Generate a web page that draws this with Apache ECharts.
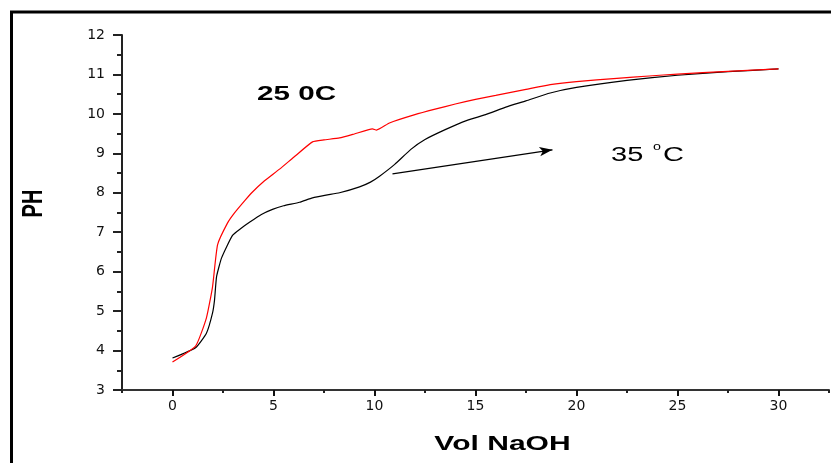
<!DOCTYPE html>
<html>
<head>
<meta charset="utf-8">
<script src="https://cdn.jsdelivr.net/npm/echarts@6/dist/echarts.min.js"></script>
<style>
html,body{margin:0;padding:0;background:#fff;}
#chart{width:831px;height:463px;}
</style>
</head>
<body>
<div id="chart"></div>
<script>
// ---- data ----
var xTickValues = [0, 5, 10, 15, 20, 25, 30];
var vol25 = [0, 1.15, 1.68, 1.98, 2.23, 2.72, 3.07, 3.61, 3.96, 4.5, 5.3, 6.0, 6.93, 7.5, 8.27, 9.0, 9.9, 10.1, 10.74, 12, 13, 14, 15, 16, 17.5, 18.7, 20, 22, 23.6, 25, 27.5, 30];
var ph25  = [3.71, 4.12, 4.83, 5.61, 6.68, 7.23, 7.49, 7.82, 8.02, 8.28, 8.6, 8.9, 9.29, 9.34, 9.39, 9.49, 9.62, 9.59, 9.77, 9.98, 10.12, 10.25, 10.37, 10.47, 10.62, 10.74, 10.82, 10.9, 10.96, 11.01, 11.08, 11.14];
var vol35 = [0, 1.14, 1.68, 1.98, 2.08, 2.18, 2.43, 2.97, 3.4, 3.81, 4.4, 4.95, 5.5, 6.29, 6.93, 7.6, 8.27, 9.26, 9.8, 10.25, 11.0, 11.8, 12.5, 13.5, 14.55, 15.5, 16.5, 17.5, 18.7, 20, 22.5, 25, 27.5, 30];
var ph35  = [3.81, 4.07, 4.44, 4.95, 5.28, 5.87, 6.35, 6.92, 7.1, 7.25, 7.45, 7.58, 7.67, 7.76, 7.87, 7.94, 8.0, 8.15, 8.27, 8.42, 8.72, 9.1, 9.35, 9.6, 9.83, 9.98, 10.17, 10.33, 10.53, 10.67, 10.85, 10.98, 11.07, 11.14];
var arrowStart = [10.89, 8.48];
var arrowEnd = [18.81, 9.09];

function pairs(xs, ys) { return xs.map(function (x, i) { return [x, ys[i]]; }); }

var FONT = 'Liberation Sans, Arial, sans-serif';
var chart = echarts.init(document.getElementById('chart'), null, {renderer: 'canvas'});

var option = {
  animation: false,
  backgroundColor: '#fff',
  grid: {left: 122, right: 2, top: 35, bottom: 73},
  xAxis: [{
    type: 'value', min: -2.5, max: 32.5, interval: 2.5,
    axisLine: {show: true, onZero: false, lineStyle: {color: '#333', width: 2}},
    axisTick: {show: true, length: 3, lineStyle: {color: '#222', width: 2}},
    axisLabel: {show: false},
    splitLine: {show: false}
  }, {
    type: 'value', min: -2.5, max: 32.5, position: 'bottom',
    axisLine: {show: false},
    axisTick: {show: true, length: 6, customValues: xTickValues, lineStyle: {color: '#111', width: 2}},
    axisLabel: {show: true, customValues: xTickValues, margin: 9, color: '#111', fontSize: 14, fontFamily: 'DejaVu Sans'},
    splitLine: {show: false}
  }],
  yAxis: {
    type: 'value', min: 3, max: 12, interval: 1,
    axisLine: {show: true, onZero: false, lineStyle: {color: '#222', width: 2}},
    axisTick: {show: true, length: 9, lineStyle: {color: '#222', width: 2}},
    minorTick: {show: true, splitNumber: 2, length: 5, lineStyle: {color: '#222', width: 2}},
    axisLabel: {margin: 17, color: '#111', fontSize: 14, fontFamily: 'DejaVu Sans'},
    splitLine: {show: false}
  },
  series: [{
    name: '25 0C', type: 'line', xAxisIndex: 0,
    data: pairs(vol25, ph25),
    showSymbol: false, smooth: 0.15,
    lineStyle: {color: '#ff0000', width: 1.2},
    z: 3
  }, {
    name: '35 °C', type: 'line', xAxisIndex: 0,
    data: pairs(vol35, ph35),
    showSymbol: false, smooth: 0.15,
    lineStyle: {color: '#000', width: 1.2},
    z: 2,
    markLine: {
      silent: true,
      symbol: ['none', 'arrow'],
      symbolSize: [7, 13],
      lineStyle: {color: '#000', width: 1.2, type: 'solid'},
      label: {show: false},
      emphasis: {disabled: true},
      data: [[{coord: arrowStart}, {coord: arrowEnd}]]
    }
  }],
  graphic: [
    {type: 'line', shape: {x1: 11.5, y1: 11, x2: 11.5, y2: 463}, style: {stroke: '#000', lineWidth: 3}, silent: true},
    {type: 'line', shape: {x1: 10, y1: 12, x2: 831, y2: 12}, style: {stroke: '#000', lineWidth: 3}, silent: true},
    {type: 'text', x: 257, y: 94.5, scaleX: 1.41, silent: true,
     style: {text: '25 0C', fill: '#000', font: 'bold 21px ' + FONT, textAlign: 'left', textVerticalAlign: 'middle'}},
    {type: 'text', x: 611, y: 155, scaleX: 1.45, silent: true,
     style: {text: '35', fill: '#000', font: '20px ' + FONT, textAlign: 'left', textVerticalAlign: 'middle'}},
    {type: 'text', x: 653, y: 146.5, scaleX: 1.3, silent: true,
     style: {text: 'o', fill: '#000', font: '11px ' + FONT, textAlign: 'left', textVerticalAlign: 'middle'}},
    {type: 'text', x: 663, y: 155, scaleX: 1.45, silent: true,
     style: {text: 'C', fill: '#000', font: '20px ' + FONT, textAlign: 'left', textVerticalAlign: 'middle'}},
    {type: 'text', x: 502.5, y: 444.5, scaleX: 1.43, silent: true,
     style: {text: 'Vol NaOH', fill: '#000', font: 'bold 21px ' + FONT, textAlign: 'center', textVerticalAlign: 'middle'}},
    {type: 'text', x: 34, y: 203.5, rotation: Math.PI / 2, scaleY: 1.45, silent: true,
     style: {text: 'PH', fill: '#000', font: 'bold 20px ' + FONT, textAlign: 'center', textVerticalAlign: 'middle'}}
  ]
};
chart.setOption(option);
</script>
</body>
</html>
